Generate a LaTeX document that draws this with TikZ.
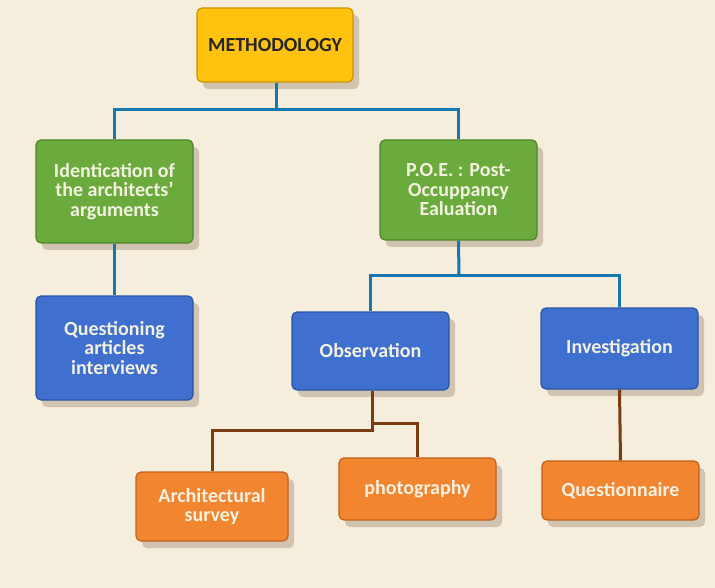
\documentclass[tikz,border=0pt]{standalone}
\usepackage{fontspec}
\setmainfont{Carlito}
\usetikzlibrary{shadows}
\definecolor{bg}{HTML}{F6EEDD}
\definecolor{yfill}{HTML}{FFC20E}
\definecolor{yline}{HTML}{C89400}
\definecolor{gfill}{HTML}{6BAA3C}
\definecolor{gline}{HTML}{4E8529}
\definecolor{bfill}{HTML}{3F70CF}
\definecolor{bline}{HTML}{2A55A6}
\definecolor{ofill}{HTML}{F28530}
\definecolor{oline}{HTML}{C0601A}
\definecolor{conb}{HTML}{1677B0}
\definecolor{conr}{HTML}{7A3A12}
\definecolor{txtw}{HTML}{F4F1E0}
\tikzset{
  x=1pt, y=-1pt,
  boxbase/.style={rectangle, rounded corners=5pt, line width=1.2pt, align=center,
    font=\fontsize{20}{19.5}\selectfont\bfseries, text=txtw, inner sep=2pt,
    drop shadow={shadow xshift=6pt, shadow yshift=-7pt, opacity=0.22, fill=black!60!brown}},
  ybox/.style={boxbase, fill=yfill, draw=yline, text=black!85},
  gbox/.style={boxbase, fill=gfill, draw=gline},
  bbox/.style={boxbase, fill=bfill, draw=bline},
  obox/.style={boxbase, fill=ofill, draw=oline},
  bcon/.style={draw=conb, line width=3pt},
  rcon/.style={draw=conr, line width=3pt},
}
\begin{document}
\begin{tikzpicture}
\fill[bg] (0,0) rectangle (715,588);
\useasboundingbox (0,0) rectangle (715,588);

\coordinate (mjoin) at (276,110);
\coordinate (pjoin) at (459,275);
\coordinate (ojoinA) at (372,430);
\coordinate (ojoinB) at (372,423);

\node[ybox, minimum width=156pt, minimum height=74pt] (meth) at (275,45) {METHODOLOGY};
\node[gbox, minimum width=157pt, minimum height=103pt] (ident) at (114.5,191.5) {Identication of\\the architects\char39\\arguments};
\node[gbox, minimum width=157pt, minimum height=100pt] (poe) at (458.5,190) {P.O.E. : Post-\\Occuppancy\\Ealuation};
\node[bbox, minimum width=157pt, minimum height=104pt] (quest) at (114.5,348) {Questioning\\articles\\interviews};
\node[bbox, minimum width=157pt, minimum height=78pt] (obs) at (370.5,351) {Observation};
\node[bbox, minimum width=157pt, minimum height=81pt] (inv) at (619.5,348.5) {Investigation};
\node[obox, minimum width=152pt, minimum height=69pt] (arch) at (212,506.5) {Architectural\\survey};
\node[obox, minimum width=157pt, minimum height=62pt] (photo) at (417.5,489) {photography};
\node[obox, minimum width=157pt, minimum height=59pt] (qnaire) at (620.5,490.5) {Questionnaire};

\draw[bcon] (meth.south -| mjoin) -- (mjoin);
\draw[bcon] (ident.north) |- (mjoin) -| (poe.north);
\draw[bcon] (ident.south) -- (quest.north);
\draw[bcon] (poe.south) -- (pjoin);
\draw[bcon] (obs.north) |- (pjoin) -| (inv.north);
\draw[rcon] (obs.south -| ojoinA) -- (ojoinA) -| (arch.north);
\draw[rcon] (ojoinB) -| (photo.north);
\draw[rcon] (inv.south) -- (qnaire.north);
\end{tikzpicture}
\end{document}
